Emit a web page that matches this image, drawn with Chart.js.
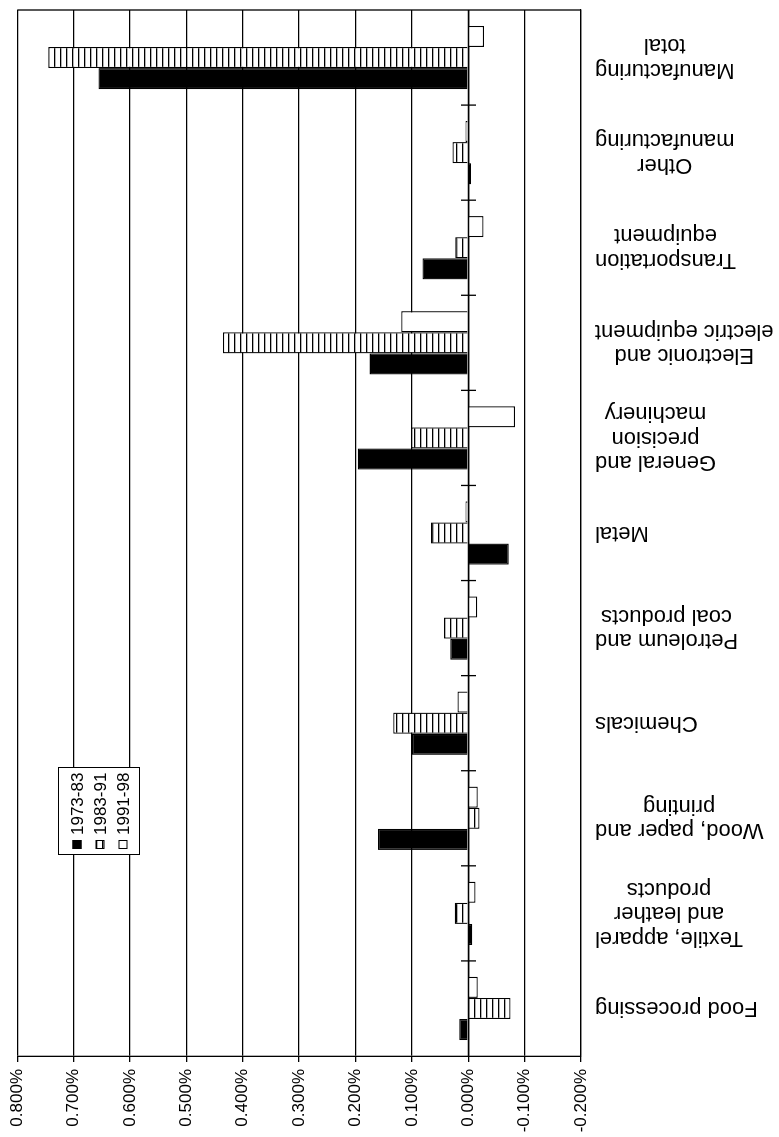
<!DOCTYPE html>
<html>
<head>
<meta charset="utf-8">
<script src="https://cdn.jsdelivr.net/npm/chart.js@4/dist/chart.umd.min.js"></script>
<style>
  html, body { margin: 0; padding: 0; background: #fff; overflow: hidden; }
  /* the chart is laid out as an ordinary column chart and turned a quarter turn */
  #wrap {
    position: absolute; left: 0; top: 0;
    width: 1137px; height: 779px;
    transform-origin: 0 0;
    transform: translateY(1137px) rotate(-90deg);
  }
  canvas { display: block; }
</style>
</head>
<body>
<div id="wrap"><canvas id="c" width="1137" height="779"></canvas></div>
<script>
// Industry groups (label lines as printed under the axis)
const categories = [
  ['Food processing'],
  ['Textile, apparel', 'and leather', 'products'],
  ['Wood, paper and', 'printing'],
  ['Chemicals'],
  ['Petroleum and', 'coal products'],
  ['Metal'],
  ['General and', 'precision', 'machinery'],
  ['Electronic and', 'electric equipment'],
  ['Transportation', 'equipment'],
  ['Other', 'manufacturing'],
  ['Manufacturing', 'total']
];

// Contribution, in percentage points, for each period
const period1973_83 = [0.016, -0.007, 0.160, 0.100, 0.032, -0.072, 0.196, 0.175, 0.081, -0.005, 0.656];
const period1983_91 = [-0.075, 0.024, -0.020, 0.133, 0.043, 0.066, 0.101, 0.435, 0.023, 0.028, 0.745];
const period1991_98 = [-0.017, -0.013, -0.017, 0.019, -0.016, 0.005, -0.083, 0.119, -0.027, 0.005, -0.028];

const seriesNames = ['1973-83', '1983-91', '1991-98'];
const tickValues = [-0.2, -0.1, 0, 0.1, 0.2, 0.3, 0.4, 0.5, 0.6, 0.7, 0.8];

const FONT = "'Liberation Sans', Arial, Helvetica, sans-serif";

// striped fill for the middle period
function stripePattern() {
  const t = document.createElement('canvas');
  t.width = 6; t.height = 6;
  const g = t.getContext('2d');
  g.fillStyle = '#fff'; g.fillRect(0, 0, 6, 6);
  g.fillStyle = '#000'; g.fillRect(0, 0, 6, 1.3);
  return g.createPattern(t, 'repeat');
}
const ctx0 = document.getElementById('c').getContext('2d');
const stripes = stripePattern();

// axis through zero with cross ticks between groups, plus the closing frame line
const zeroAxis = {
  id: 'zeroAxis',
  afterDatasetsDraw(chart) {
    const { ctx, chartArea: a, scales: { x, y } } = chart;
    const y0 = Math.round(y.getPixelForValue(0)) + 0.5;
    ctx.save();
    ctx.strokeStyle = '#000';
    ctx.lineWidth = 1.3;
    ctx.beginPath();
    ctx.moveTo(a.left, y0); ctx.lineTo(a.right, y0);
    const n = categories.length;
    const w = (a.right - a.left) / n;
    for (let k = 1; k < n; k++) {
      const xx = a.left + k * w;
      ctx.moveTo(xx, y0 - 7.5); ctx.lineTo(xx, y0 + 7.5);
    }
    ctx.moveTo(a.right, a.top); ctx.lineTo(a.right, a.bottom);
    ctx.stroke();
    ctx.restore();
  }
};

// category names, lines centred on each other, block set against the axis
const categoryLabels = {
  id: 'categoryLabels',
  afterDraw(chart) {
    const { ctx, chartArea: a, scales: { x } } = chart;
    ctx.save();
    ctx.font = '22px ' + FONT;
    ctx.fillStyle = '#000';
    ctx.textAlign = 'center';
    ctx.textBaseline = 'middle';
    const lineH = 24.5;
    categories.forEach((lines, i) => {
      const cx = x.getPixelForValue(i);
      const maxW = Math.max(...lines.map(s => ctx.measureText(s).width));
      ctx.save();
      ctx.translate(cx, a.bottom + 14 + maxW / 2);
      ctx.rotate(-Math.PI / 2);
      lines.forEach((s, j) => {
        ctx.fillText(s, 0, (j - (lines.length - 1) / 2) * lineH);
      });
      ctx.restore();
    });
    ctx.restore();
  }
};

// boxed legend inside the plot
const legendBox = {
  id: 'legendBox',
  afterDraw(chart) {
    const { ctx } = chart;
    const bx = 282, by = 58, bw = 87, bh = 81;
    ctx.save();
    ctx.fillStyle = '#fff';
    ctx.fillRect(bx, by, bw, bh);
    ctx.strokeStyle = '#000';
    ctx.lineWidth = 1;
    ctx.strokeRect(bx + 0.5, by + 0.5, bw, bh);
    ctx.font = '17px ' + FONT;
    ctx.textBaseline = 'middle';
    ctx.textAlign = 'left';
    chart.data.datasets.forEach((ds, i) => {
      const cy = by + 19 + i * 23;
      ctx.fillStyle = ds.backgroundColor;
      ctx.fillRect(bx + 6, cy - 4.5, 9, 9);
      ctx.strokeStyle = '#000';
      ctx.strokeRect(bx + 6.5, cy - 4, 8, 8);
      ctx.fillStyle = '#000';
      ctx.fillText(ds.label, bx + 20, cy + 1);
    });
    ctx.restore();
  }
};

new Chart(ctx0, {
  type: 'bar',
  data: {
    labels: categories.map(l => l.join(' ')),
    datasets: [
      { label: seriesNames[0], data: period1973_83, backgroundColor: '#000', borderColor: '#000', borderWidth: 1.3 },
      { label: seriesNames[1], data: period1983_91, backgroundColor: stripes, borderColor: '#000', borderWidth: 1.3 },
      { label: seriesNames[2], data: period1991_98, backgroundColor: '#fff', borderColor: '#000', borderWidth: 1.3 }
    ]
  },
  options: {
    responsive: false,
    animation: false,
    devicePixelRatio: 1,
    layout: { padding: { top: 17, right: 10, left: 0, bottom: 0 } },
    datasets: { bar: { categoryPercentage: 0.666, barPercentage: 1.0, borderSkipped: 'start' } },
    plugins: { legend: { display: false }, tooltip: { enabled: false } },
    scales: {
      x: {
        type: 'category',
        offset: true,
        grid: { display: false },
        border: { display: true, color: '#000', width: 1.3 },
        ticks: { display: false },
        afterFit(s) { s.height = 198; }
      },
      y: {
        min: -0.2,
        max: 0.8,
        afterBuildTicks(s) { s.ticks = tickValues.map(v => ({ value: v })); },
        grid: { color: '#000', lineWidth: 1.3, tickLength: 6, drawTicks: true },
        border: { display: true, color: '#000', width: 1.3 },
        ticks: {
          color: '#000',
          padding: 7,
          font: { family: FONT, size: 17 },
          callback: v => v.toFixed(3) + '%'
        },
        afterFit(s) { s.width = 81; }
      }
    }
  },
  plugins: [zeroAxis, categoryLabels, legendBox]
});
</script>
</body>
</html>
